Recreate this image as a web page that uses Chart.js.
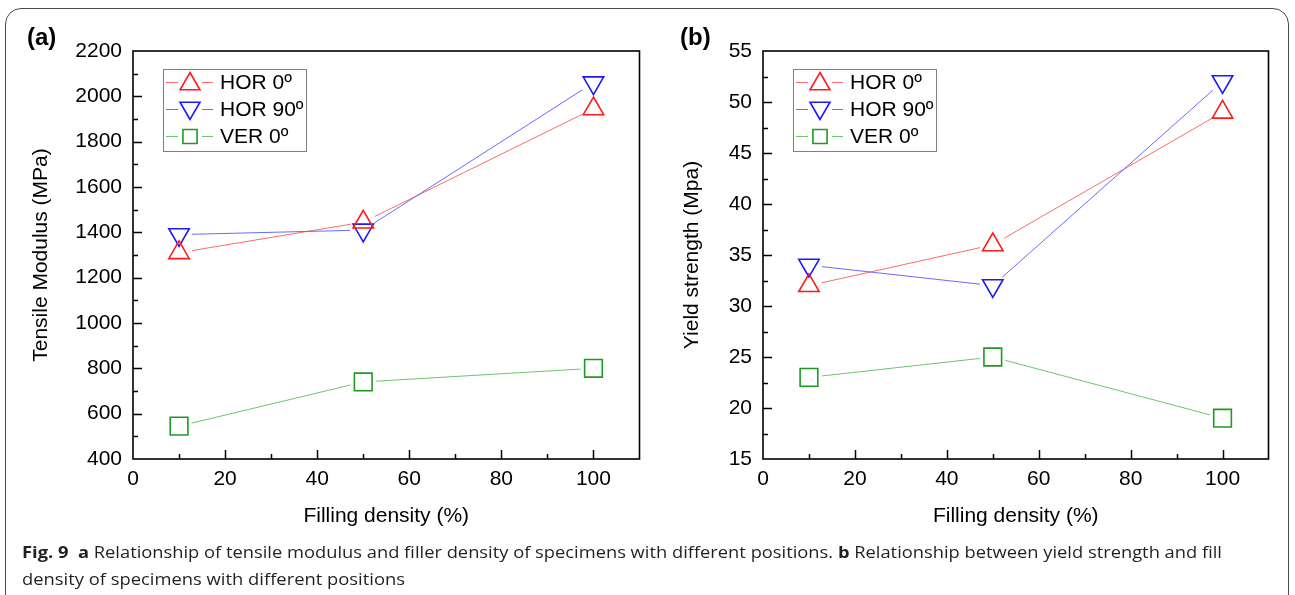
<!DOCTYPE html>
<html>
<head>
<meta charset="utf-8">
<script src="https://cdn.jsdelivr.net/npm/chart.js@4/dist/chart.umd.min.js"></script>
<style>
  html, body { margin: 0; padding: 0; background: #fff; width: 1295px; height: 595px; overflow: hidden; }
  #frame { position: absolute; left: 5px; top: 8px; width: 1282px; height: 600px; border: 1.5px solid #4a4a4a; border-radius: 16px; }
  .wrap { position: absolute; top: 0; height: 540px; }
  .panel { position: absolute; font-family: "Liberation Sans", Arial, sans-serif; font-weight: bold; font-size: 24px; color: #000; }
  #caption { position: absolute; left: 22px; top: 538px; font-family: "Open Sans", sans-serif; font-size: 16.5px; color: #231f20; line-height: 27px; }
  #caption .ln { display: block; white-space: nowrap; transform-origin: 0 50%; }
  #caption b { font-weight: 700; }
</style>
</head>
<body>
<div id="frame"></div>
<div class="wrap" style="left:0px; width:660px"><canvas id="chartA"></canvas></div>
<div class="wrap" style="left:640px; width:650px"><canvas id="chartB"></canvas></div>
<div class="panel" style="left:27px; top:23px">(a)</div>
<div class="panel" style="left:680px; top:23px">(b)</div>
<div id="caption">
  <span class="ln" id="ln1"><b>Fig. 9</b>&nbsp; <b>a</b> Relationship of tensile modulus and filler density of specimens with different positions. <b>b</b> Relationship between yield strength and fill</span>
  <span class="ln" id="ln2">density of specimens with different positions</span>
</div>
<script>
// ---------------- data ----------------
const fillDensity = [10, 50, 100];
const seriesNames = ['HOR 0º', 'HOR 90º', 'VER 0º'];
const tensileHor0 = [1310, 1445, 1945];
const tensileHor90 = [1390, 1410, 2060];
const tensileVer0 = [545, 740, 800];
const yieldHor0 = [32, 36, 49];
const yieldHor90 = [34, 32, 52];
const yieldVer0 = [23, 25, 19];
const xTickLabels = [0, 20, 40, 60, 80, 100];
const tensileTickLabels = [400, 600, 800, 1000, 1200, 1400, 1600, 1800, 2000, 2200];
const yieldTickLabels = [15, 20, 25, 30, 35, 40, 45, 50, 55];

// ---------------- styles ----------------
const lineColors = ['#ff6a6a', '#6a6aff', '#6cc46c'];
const markerColors = ['#ff1a1a', '#1a1aff', '#1f9a1f'];
const markerStyles = ['triangle', 'triangle', 'rect'];
const markerRotations = [0, 180, 0];
const markerRadii = [11.8, 11.8, 12.5];
const FONT = '"Liberation Sans", Arial, sans-serif';

function drawMarker(ctx, style, rot, x, y, r, color, lw) {
  ctx.save();
  ctx.strokeStyle = color;
  ctx.lineWidth = lw;
  ctx.beginPath();
  if (style === 'triangle') {
    let a = rot * Math.PI / 180;
    for (let k = 0; k < 3; k++) {
      const px = x + Math.sin(a) * r, py = y - Math.cos(a) * r;
      if (k === 0) ctx.moveTo(px, py); else ctx.lineTo(px, py);
      a += 2 * Math.PI / 3;
    }
    ctx.closePath();
  } else {
    const s = Math.SQRT1_2 * r;
    ctx.rect(x - s, y - s, 2 * s, 2 * s);
  }
  ctx.stroke();
  ctx.restore();
}

// connecting lines with the Origin-style gap around each marker,
// using the point positions computed by the chart's own scales
const gapLines = {
  id: 'gapLines',
  beforeDatasetsDraw(chart) {
    const { ctx, chartArea: a } = chart;
    ctx.save();
    ctx.beginPath();
    ctx.rect(a.left, a.top, a.right - a.left, a.bottom - a.top);
    ctx.clip();
    chart.data.datasets.forEach((ds, i) => {
      const pts = chart.getDatasetMeta(i).data;
      ctx.strokeStyle = ds.borderColor;
      ctx.lineWidth = 1;
      ctx.beginPath();
      for (let k = 0; k + 1 < pts.length; k++) {
        const p0 = pts[k], p1 = pts[k + 1];
        const dx = p1.x - p0.x, dy = p1.y - p0.y;
        const len = Math.hypot(dx, dy);
        const g = 13;
        if (len <= 2 * g) continue;
        const ux = dx / len, uy = dy / len;
        ctx.moveTo(p0.x + ux * g, p0.y + uy * g);
        ctx.lineTo(p1.x - ux * g, p1.y - uy * g);
      }
      ctx.stroke();
    });
    ctx.restore();
  }
};

const frameTicks = {
  id: 'frameTicks',
  afterDraw(chart) {
    const { ctx, chartArea: a, scales } = chart;
    const xs = scales.x, ys = scales.y;
    const labX = chart.options.plugins.frameTicks.xLabels;
    const labY = chart.options.plugins.frameTicks.yLabels;
    ctx.save();
    ctx.strokeStyle = '#000';
    ctx.lineWidth = 1.5;
    ctx.beginPath();
    xs.ticks.forEach(t => {
      const px = Math.round(xs.getPixelForValue(t.value)) + 0.5;
      if (px <= a.left + 2 || px >= a.right - 2) return;
      const len = labX.some(v => Math.abs(v - t.value) < 1e-6) ? 9 : 5;
      ctx.moveTo(px, a.bottom);
      ctx.lineTo(px, a.bottom - len);
    });
    ys.ticks.forEach(t => {
      const py = Math.round(ys.getPixelForValue(t.value)) + 0.5;
      if (py <= a.top + 2 || py >= a.bottom - 2) return;
      const len = labY.some(v => Math.abs(v - t.value) < 1e-6) ? 9 : 5;
      ctx.moveTo(a.left, py);
      ctx.lineTo(a.left + len, py);
    });
    ctx.stroke();
    ctx.lineWidth = 1.6;
    ctx.strokeRect(a.left, a.top, a.right - a.left, a.bottom - a.top);
    ctx.restore();
  }
};

const originLegend = {
  id: 'originLegend',
  afterDraw(chart) {
    const { ctx, chartArea: a } = chart;
    const L = a.left + 30, T = a.top + 18, W = 143, H = 82;
    ctx.save();
    ctx.fillStyle = '#fff';
    ctx.fillRect(L, T, W, H);
    ctx.strokeStyle = '#808080';
    ctx.lineWidth = 1;
    ctx.strokeRect(L + 0.5, T + 0.5, W, H);
    chart.data.datasets.forEach((ds, i) => {
      const y = T + 13.5 + i * 27;
      const cx = L + 27;
      ctx.strokeStyle = ds.borderColor;
      ctx.lineWidth = 1;
      ctx.beginPath();
      ctx.moveTo(L + 3, y); ctx.lineTo(cx - 12, y);
      ctx.moveTo(cx + 12, y); ctx.lineTo(L + 50, y);
      ctx.stroke();
      const r = ds.pointStyle === 'rect' ? 10 : 11.5;
      const yy = ds.pointStyle === 'triangle' ? y + (ds.pointRotation ? -1.5 : 1.5) : y;
      drawMarker(ctx, ds.pointStyle, ds.pointRotation, cx, yy, r, ds.pointBorderColor, 1.6);
      ctx.fillStyle = '#000';
      ctx.font = '21px ' + FONT;
      ctx.textBaseline = 'middle';
      ctx.textAlign = 'left';
      ctx.fillText(ds.label, L + 57, y + 1);
    });
    ctx.restore();
  }
};

function makeDatasets(arrs) {
  return arrs.map((vals, i) => ({
    label: seriesNames[i],
    data: fillDensity.map((x, j) => ({ x: x, y: vals[j] })),
    borderColor: lineColors[i],
    borderWidth: 1,
    showLine: false,
    pointStyle: markerStyles[i],
    pointRotation: markerRotations[i],
    pointRadius: markerRadii[i],
    pointBorderColor: markerColors[i],
    pointBackgroundColor: 'rgba(0,0,0,0)',
    pointBorderWidth: 1.6,
    tension: 0,
    fill: false
  }));
}

function makeChart(id, arrs, yMin, yMax, yStep, yLabels, yTitle, cfg) {
  const isLab = (list, v) => list.some(u => Math.abs(u - v) < 1e-6);
  return new Chart(document.getElementById(id), {
    type: 'line',
    data: { datasets: makeDatasets(arrs) },
    plugins: [gapLines, frameTicks, originLegend],
    options: {
      responsive: true,
      maintainAspectRatio: false,
      animation: false,
      events: [],
      layout: { padding: { top: cfg.top, right: cfg.right, bottom: cfg.bottom, left: 0 } },
      plugins: {
        legend: { display: false },
        tooltip: { enabled: false },
        frameTicks: { xLabels: xTickLabels, yLabels: yLabels }
      },
      scales: {
        x: {
          type: 'linear', min: 0, max: 110,
          grid: { display: false, drawTicks: false },
          border: { display: false },
          ticks: {
            stepSize: 10, autoSkip: false, maxRotation: 0, padding: 8,
            color: '#000', font: { family: FONT, size: 21 },
            callback: v => isLab(xTickLabels, v) ? String(v) : ''
          },
          title: { display: true, text: 'Filling density (%)', color: '#000', font: { family: FONT, size: 21 }, padding: { top: 0, bottom: 0 } },
          afterFit: s => { s.height = cfg.xh; s.paddingLeft = 0; s.paddingRight = 0; }
        },
        y: {
          type: 'linear', min: yMin, max: yMax,
          grid: { display: false, drawTicks: false },
          border: { display: false },
          ticks: {
            stepSize: yStep, autoSkip: false, padding: 11,
            color: '#000', font: { family: FONT, size: 21 },
            callback: v => isLab(yLabels, v) ? String(v) : ''
          },
          title: { display: true, text: yTitle, color: '#000', font: { family: FONT, size: 21 }, padding: { top: cfg.ytp, bottom: 0 } },
          afterFit: s => { s.width = cfg.yw; s.paddingTop = 0; s.paddingBottom = 0; }
        }
      }
    }
  });
}

makeChart('chartA', [tensileHor0, tensileHor90, tensileVer0], 400, 2200, 100, tensileTickLabels,
  'Tensile Modulus (MPa)', { top: 51, right: 20.5, bottom: 11, xh: 70, yw: 133, ytp: 29 });
makeChart('chartB', [yieldHor0, yieldHor90, yieldVer0], 15, 55, 2.5, yieldTickLabels,
  'Yield strength (Mpa)', { top: 51, right: 21.5, bottom: 11, xh: 70, yw: 123, ytp: 40 });

// fit caption lines to the reference widths
function fitLine(id, target) {
  const el = document.getElementById(id);
  el.style.display = 'inline-block';
  const w = el.getBoundingClientRect().width;
  el.style.transform = 'scaleX(' + (target / w) + ')';
  el.style.display = 'block';
  el.style.width = w + 'px';
}
fitLine('ln1', 1200);
fitLine('ln2', 383);
</script>
</body>
</html>
